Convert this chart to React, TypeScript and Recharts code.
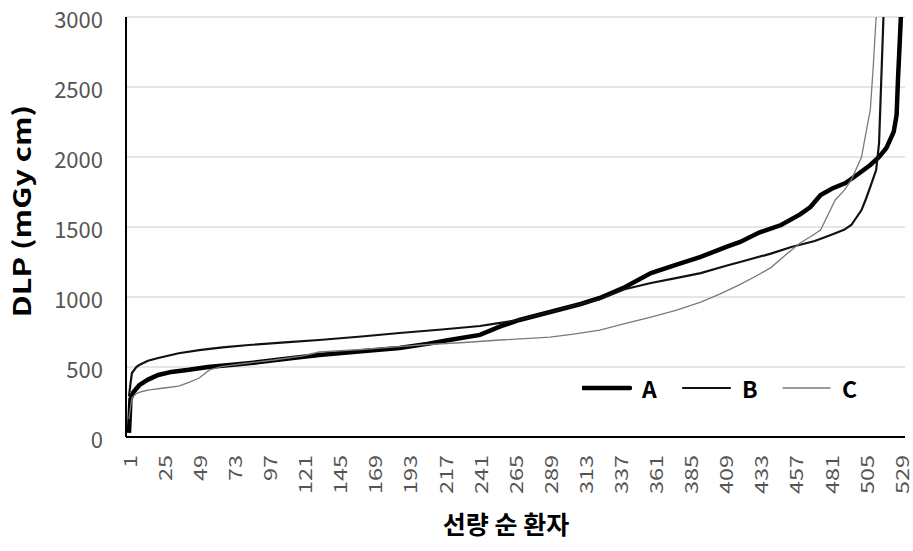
import { CartesianGrid, Legend, Line, LineChart, XAxis, YAxis } from 'recharts'

// patient rank (sorted by dose) and DLP
const rankA = [1, 2, 4, 8, 14, 21, 30, 42, 55, 70, 90, 110, 131, 160, 186, 205, 220, 241, 255, 268, 289, 310, 323, 340, 358, 375, 392, 410, 419, 432, 447, 460, 467, 474, 482, 491, 500, 508, 514, 519, 524, 526, 527, 528, 529]
const dlpA = [30, 270, 320, 370, 410, 443, 465, 480, 500, 514, 535, 560, 586, 612, 636, 665, 693, 729, 790, 836, 893, 950, 993, 1070, 1171, 1230, 1286, 1360, 1393, 1460, 1514, 1590, 1643, 1729, 1775, 1814, 1880, 1943, 2000, 2064, 2179, 2300, 2571, 2790, 3020]

const rankB = [1, 2, 3, 6, 8, 14, 21, 35, 49, 65, 83, 110, 131, 160, 186, 215, 241, 255, 268, 289, 310, 323, 340, 358, 375, 392, 410, 419, 440, 454, 470, 481, 490, 495, 502, 505, 508, 512, 514, 515, 516, 517, 518, 529]
const dlpB = [290, 380, 457, 500, 514, 545, 564, 598, 621, 640, 657, 677, 693, 718, 743, 768, 793, 815, 836, 893, 950, 985, 1055, 1100, 1135, 1171, 1225, 1250, 1310, 1357, 1400, 1443, 1480, 1514, 1621, 1700, 1786, 1907, 2100, 2400, 2700, 3000, 3300, 4000]

const rankC = [1, 2, 3, 6, 10, 15, 25, 35, 42, 49, 56, 65, 80, 100, 120, 131, 160, 186, 200, 230, 255, 289, 305, 323, 340, 358, 375, 392, 405, 419, 430, 440, 450, 460, 467, 474, 484, 490, 495, 502, 505, 508, 510, 512, 513, 529]
const dlpC = [130, 210, 280, 310, 325, 336, 350, 364, 390, 421, 479, 505, 525, 550, 580, 607, 625, 645, 657, 675, 693, 714, 735, 764, 810, 857, 905, 964, 1020, 1090, 1150, 1210, 1300, 1386, 1430, 1479, 1693, 1760, 1836, 2000, 2171, 2336, 2643, 3000, 3300, 5000]

const xTicks = [1, 25, 49, 73, 97, 121, 145, 169, 193, 217, 241, 265, 289, 313, 337, 361, 385, 409, 433, 457, 481, 505, 529]
const yTicks = [0, 500, 1000, 1500, 2000, 2500, 3000]

const seriesNames = ['A', 'B', 'C']

const font = "'Noto Sans CJK KR', 'Open Sans', sans-serif"

const toPoints = (ranks: number[], values: number[]) =>
  ranks.map((rank, i) => ({ rank, dlp: values[i] }))

const seriesStyle: Record<string, { stroke: string; width: number }> = {
  A: { stroke: '#000000', width: 4.5 },
  B: { stroke: '#111111', width: 2.2 },
  C: { stroke: '#7a7a7a', width: 1.3 },
}

// the source picture is stretched vertically, so rotated labels are drawn a bit longer
function XTick({ x, y, payload }: any) {
  return (
    <text
      transform={`translate(${x}, ${y + 10}) rotate(-90) scale(1.3, 1)`}
      textAnchor="end"
      dominantBaseline="central"
      fontSize={18}
      fontFamily={font}
      fill="#555555"
    >
      {payload.value}
    </text>
  )
}

function YTick({ x, y, payload }: any) {
  return (
    <text
      x={x}
      y={y + 1}
      textAnchor="end"
      dominantBaseline="central"
      fontSize={22}
      fontFamily={font}
      fill="#555555"
    >
      {payload.value}
    </text>
  )
}

function LegendBox() {
  return (
    <div style={{ display: 'flex', alignItems: 'center', fontFamily: font, fontWeight: 700, fontSize: 23 }}>
      {seriesNames.map((name) => (
        <div key={name} style={{ display: 'flex', alignItems: 'center', width: 100 }}>
          <svg width={50} height={12}>
            <line
              x1={1}
              x2={48}
              y1={6}
              y2={6}
              stroke={seriesStyle[name].stroke}
              strokeWidth={seriesStyle[name].width}
              strokeLinecap="round"
            />
          </svg>
          <span style={{ marginLeft: 10, color: '#000' }}>{name}</span>
        </div>
      ))}
    </div>
  )
}

export default function App() {
  const data = {
    A: toPoints(rankA, dlpA),
    B: toPoints(rankB, dlpB),
    C: toPoints(rankC, dlpC),
  }

  return (
    <div style={{ position: 'absolute', left: 0, top: 0, width: 913, height: 551, background: '#fff' }}>
      <LineChart width={913} height={551} margin={{ top: 17, right: 8, bottom: 0, left: 0 }}>
        <CartesianGrid vertical={false} stroke="#dedede" strokeWidth={1.5} />
        <XAxis
          dataKey="rank"
          type="number"
          domain={[1, 529]}
          ticks={xTicks}
          interval={0}
          padding={{ left: 3, right: 4 }}
          height={114}
          tickLine={false}
          axisLine={{ stroke: '#000', strokeWidth: 2 }}
          tick={<XTick />}
          allowDuplicatedCategory={false}
          label={{
            content: () => (
              <text x={506} y={534} textAnchor="middle" fontFamily={font} fontWeight={700} fontSize={25} fill="#000">
                선량 순 환자
              </text>
            ),
          }}
        />
        <YAxis
          type="number"
          domain={[0, 3000]}
          ticks={yTicks}
          allowDataOverflow
          width={126}
          tickLine={false}
          tickMargin={17}
          axisLine={{ stroke: '#000', strokeWidth: 2 }}
          tick={<YTick />}
          label={{
            content: () => (
              <text
                transform="translate(21, 211) rotate(-90) scale(1.28, 1)"
                textAnchor="middle"
                dominantBaseline="central"
                fontFamily={font}
                fontWeight={700}
                fontSize={24}
                fill="#000"
              >
                DLP (mGy cm)
              </text>
            ),
          }}
        />
        <Legend
          layout="horizontal"
          verticalAlign="middle"
          content={<LegendBox />}
          wrapperStyle={{ left: 582, top: 371, width: 310, height: 30 }}
        />
        {seriesNames.map((name) => (
          <Line
            key={name}
            data={data[name as 'A' | 'B' | 'C']}
            dataKey="dlp"
            name={name}
            type="linear"
            stroke={seriesStyle[name].stroke}
            strokeWidth={seriesStyle[name].width}
            dot={false}
            activeDot={false}
            isAnimationActive={false}
          />
        ))}
      </LineChart>
    </div>
  )
}
